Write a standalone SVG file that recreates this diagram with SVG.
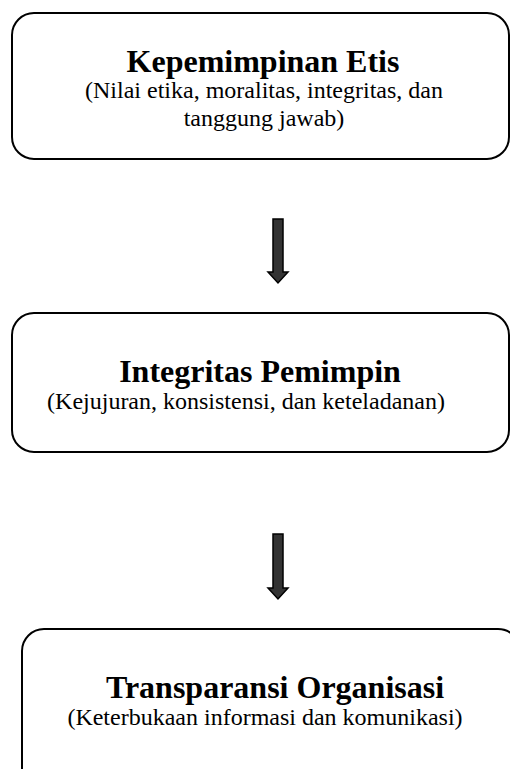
<svg xmlns="http://www.w3.org/2000/svg" width="510" height="769" viewBox="0 0 510 769">
<style>
.box{fill:#fff;stroke:#000;stroke-width:2}
.t{font-family:"Liberation Serif","Times New Roman",serif;font-weight:bold;font-size:32px;fill:#000;text-anchor:middle}
.s{font-family:"Liberation Serif","Times New Roman",serif;font-size:24px;fill:#000;text-anchor:middle}
.arr{fill:#333;stroke:#000;stroke-width:1.5;stroke-linejoin:miter}
</style>
<rect width="510" height="769" fill="#fff"/>
<g id="node1">
<rect class="box" x="12" y="13" width="497" height="146" rx="22"/>
<text class="t" x="263" y="72">Kepemimpinan Etis</text>
<text class="s" x="264" y="98">(Nilai etika, moralitas, integritas, dan</text>
<text class="s" x="264" y="126">tanggung jawab)</text>
</g>
<g id="node2">
<rect class="box" x="12" y="313" width="497" height="139" rx="22"/>
<text class="t" x="260" y="382">Integritas Pemimpin</text>
<text class="s" x="246" y="409">(Kejujuran, konsistensi, dan keteladanan)</text>
</g>
<g id="node3">
<rect class="box" x="22" y="629" width="498" height="170" rx="22"/>
<text class="t" x="275" y="698">Transparansi Organisasi</text>
<text class="s" x="265" y="725">(Keterbukaan informasi dan komunikasi)</text>
</g>
<g id="connectors">
<path class="arr" d="M273,219 H283 V272 H288 L278,283 L268,272 H273 Z"/>
<path class="arr" d="M273,534 H283 V588 H288 L278,599 L268,588 H273 Z"/>
</g>
</svg>
